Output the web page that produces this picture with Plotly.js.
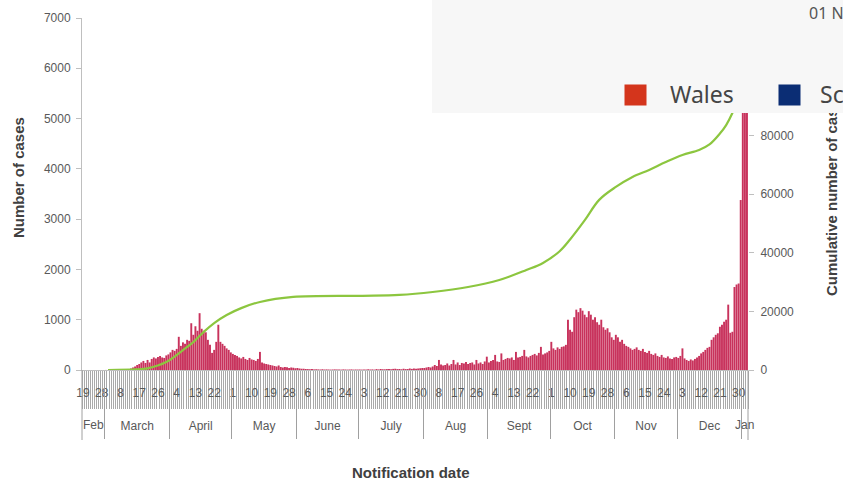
<!DOCTYPE html>
<html><head><meta charset="utf-8">
<script src="https://cdn.plot.ly/plotly-3.0.1.min.js"></script>
<style>html,body{margin:0;padding:0;overflow:hidden;background:#fff}#chart{width:843px;height:483px}</style>
</head><body><div id="chart"></div><script>
// ---- data ----
const startDate = '2020-02-19';
const endDate = '2021-01-04';
const febCases = [0,0,0,0,0,0,0,0,0,0,0];
const marCases = [1,0,1,1,2,3,2,4,5,8, 10,20,30,50,70,100,120,150,180,140, 200,150,220,250,230,260,280,250,240,290,310];
const aprCases = [350,400,380,420,660,480,550,520,600,580, 930,700,870,780,1130,820,780,750,600,500, 340,400,560,900,560,520,480,430,400,350];
const mayCases = [320,300,280,250,230,260,220,200,240,210, 200,180,220,360,150,130,120,110,100,90, 80,70,90,60,50,60,55,40,50,45,35];
const junCases = [40,30,25,25,20,18,15,20,12,15, 12,10,15,10,12,10,8,10,12,8, 10,8,12,10,8,10,12,8,10,9];
const julCases = [10,8,12,9,15,10,12,8,18,12, 20,15,14,18,20,15,22,25,18,20, 15,25,18,20,30,22,28,25,30,35,40];
const augCases = [40,50,60,50,70,100,80,200,110,90, 100,130,90,120,200,110,150,100,140,130, 160,120,140,150,110,200,130,150,120,170,265];
const sepCases = [150,180,200,300,170,160,330,200,220,240, 230,250,200,360,250,260,280,400,270,250, 280,300,320,290,340,460,310,330,350,380];
const octCases = [560,430,400,450,420,460,470,500,1000,800, 760,1050,1200,1150,1230,1180,1100,1050,1170,1100, 1000,1050,950,900,1000,850,800,830,750,650,600];
const novCases = [700,650,560,600,520,480,460,430,400,420, 450,400,380,420,360,340,380,320,300,330, 280,260,300,250,240,270,230,220,250,260];
const decCases = [240,280,430,230,200,180,210,190,220,250, 280,330,360,400,440,460,600,650,700,730, 860,900,960,1000,1300,740,760,1650,1700,1720,3380];
const janCases = [5600,6200,6600];

const cumDates = ['2020-03-02','2020-03-15','2020-03-21','2020-03-30','2020-04-07','2020-04-12','2020-04-17','2020-04-22','2020-04-28','2020-05-05','2020-05-14','2020-05-30','2020-07-01','2020-07-20','2020-08-05','2020-08-22','2020-09-06','2020-09-19','2020-09-27','2020-10-05','2020-10-10','2020-10-17','2020-10-24','2020-11-01','2020-11-09','2020-11-17','2020-11-25','2020-12-03','2020-12-11','2020-12-16','2020-12-21','2020-12-24','2020-12-27','2020-12-31','2021-01-03'];
const cumCases = [0,200,570,2700,6800,9500,13000,16000,18750,21100,23200,24900,25300,25600,26600,28300,30700,34100,36500,40500,44500,51000,58000,62400,65800,68200,70900,73300,75000,76900,80600,83500,87600,95000,108000];

const monthAbbr = ['Mar','Apr','Jun','Jul','Sep'];
const monthLabels = ['March','April','June','July','Sept'];
const edgeMonthLabels = ['Feb','Jan'];
const edgeMonthBounds = [['2020-02-19','2020-03-01'],['2021-01-01','2021-01-04']];
const legendNames = ['Wales','Scotland'];
const headerText = '01 Nov';

// ---- build ----
const dailyCases = [].concat(febCases, marCases, aprCases, mayCases, junCases, julCases, augCases, sepCases, octCases, novCases, decCases, janCases);
function addDays(s, n){ const d = new Date(s + 'T00:00:00Z'); d.setUTCDate(d.getUTCDate() + n); return d.toISOString().slice(0, 10); }
function midDate(a, b){ const t = (Date.parse(a + 'T00:00:00Z') + Date.parse(b + 'T00:00:00Z')) / 2; return new Date(t).toISOString().slice(0, 19).replace('T', ' '); }
const dates = dailyCases.map((_, i) => addDays(startDate, i));
const alias = {}; monthAbbr.forEach((m, i) => alias[m] = monthLabels[i]);

const DAY = 86400000;
const W = 843, H = 483, L = 82, R = 95, T = 18, B = 113;
const pw = W - L - R, ph = H - T - B;
const px = x => (x - L) / pw;
const py = y => (H - B - y) / ph;

const axisFont = {family: 'Liberation Sans, Arial, sans-serif', size: 12, color: '#595959'};
const titleFont = {family: 'Liberation Sans, Arial, sans-serif', size: 15, color: '#404040', weight: 'bold'};
const panelFont = {family: 'Noto Sans, Open Sans, sans-serif', size: 23, color: '#454545'};

const traces = [
  {type: 'bar', x: dates, y: dailyCases, xperiod: DAY, xperiodalignment: 'middle',
   marker: {color: '#c8325c', line: {width: 0}}, xaxis: 'x', yaxis: 'y', hoverinfo: 'skip'},
  {type: 'scatter', mode: 'lines', x: cumDates, y: cumCases, xperiod: DAY, xperiodalignment: 'middle',
   line: {color: '#8cc63f', width: 2.2, shape: 'spline', smoothing: 1}, xaxis: 'x2', yaxis: 'y2', hoverinfo: 'skip'}
];

const edgeAnnotations = edgeMonthLabels.map((t, i) => ({
  text: t, xref: 'x', yref: 'paper', x: midDate(edgeMonthBounds[i][0], edgeMonthBounds[i][1]), y: py(425),
  xanchor: 'center', yanchor: 'middle', showarrow: false, font: axisFont
}));

const layout = {
  width: W, height: H, margin: {l: L, r: R, t: T, b: B, pad: 0},
  paper_bgcolor: '#ffffff', plot_bgcolor: '#ffffff', showlegend: false, bargap: 0.08,
  xaxis: {type: 'date', range: [startDate, endDate], domain: [0, 1],
    tickmode: 'linear', tick0: '2020-02-19 12:00', dtick: 9 * DAY, tickformat: '%-d',
    ticks: '', showgrid: false, zeroline: false, showline: true, linecolor: '#bfbfbf', linewidth: 1,
    tickfont: axisFont, ticklabelstandoff: 12,
    minor: {ticks: 'outside', ticklen: 38, tickcolor: '#a9a9a9', tickwidth: 1, tick0: '2020-02-19', dtick: DAY, showgrid: false}},
  xaxis2: {type: 'date', range: [startDate, endDate], overlaying: 'x', anchor: 'y2', side: 'bottom',
    tickmode: 'linear', dtick: 'M1', tick0: '2020-02-01', tickformat: '%b', ticklabelmode: 'period',
    labelalias: alias, ticks: 'outside', ticklen: 68, tickcolor: '#a0a0a0', tickwidth: 1,
    showgrid: false, zeroline: false, showline: false, tickfont: axisFont, ticklabelstandoff: -23},
  yaxis: {range: [0, 7000], dtick: 1000, ticks: 'outside', ticklen: 5, tickcolor: '#bfbfbf',
    showline: true, linecolor: '#bfbfbf', showgrid: false, zeroline: false, tickfont: axisFont, ticklabelstandoff: 3},
  yaxis2: {range: [0, 120000], dtick: 20000, overlaying: 'y', side: 'right', anchor: 'x2', tickformat: 'd',
    ticks: 'outside', ticklen: 5, tickcolor: '#bfbfbf', showline: false, showgrid: false, zeroline: false,
    tickfont: axisFont, ticklabelstandoff: 4},
  shapes: [
    {type: 'line', xref: 'paper', yref: 'paper', x0: 0, x1: 0, y0: 0, y1: py(440), line: {color: '#a0a0a0', width: 1}},
    {type: 'line', xref: 'paper', yref: 'paper', x0: 1, x1: 1, y0: 0, y1: py(440), line: {color: '#a0a0a0', width: 1}}
  ],
  annotations: edgeAnnotations.concat([
    {text: 'Number of cases', xref: 'paper', yref: 'paper', x: px(18), y: py(178), xanchor: 'center', yanchor: 'middle', textangle: -90, showarrow: false, font: titleFont},
    {text: 'Cumulative number of cases', xref: 'paper', yref: 'paper', x: px(831), y: py(194), xanchor: 'center', yanchor: 'middle', textangle: -90, showarrow: false, font: titleFont},
    {text: 'Notification date', xref: 'paper', yref: 'paper', x: px(411), y: py(472), xanchor: 'center', yanchor: 'middle', showarrow: false, font: titleFont},
    // overlay panel
    {text: ' ', xref: 'paper', yref: 'paper', x: px(432), y: py(0), xanchor: 'left', yanchor: 'top', width: 411, height: 113,
     bgcolor: '#f7f7f7', borderpad: 0, borderwidth: 0, showarrow: false},
    {text: headerText, xref: 'paper', yref: 'paper', x: px(807), y: py(13), xanchor: 'left', yanchor: 'middle', showarrow: false,
     font: {family: 'Noto Sans, Open Sans, sans-serif', size: 16, color: '#555555'}},
    {text: ' ', xref: 'paper', yref: 'paper', x: px(624), y: py(84), xanchor: 'left', yanchor: 'top', width: 21, height: 20,
     bgcolor: '#d4351c', borderpad: 0, showarrow: false},
    {text: legendNames[0], xref: 'paper', yref: 'paper', x: px(668), y: py(94), xanchor: 'left', yanchor: 'middle', showarrow: false, font: panelFont},
    {text: ' ', xref: 'paper', yref: 'paper', x: px(778), y: py(84), xanchor: 'left', yanchor: 'top', width: 21, height: 20,
     bgcolor: '#0b2d74', borderpad: 0, showarrow: false},
    {text: legendNames[1], xref: 'paper', yref: 'paper', x: px(818), y: py(94), xanchor: 'left', yanchor: 'middle', showarrow: false, font: panelFont}
  ])
};
Plotly.newPlot('chart', traces, layout, {staticPlot: true, displayModeBar: false});
</script></body></html>
